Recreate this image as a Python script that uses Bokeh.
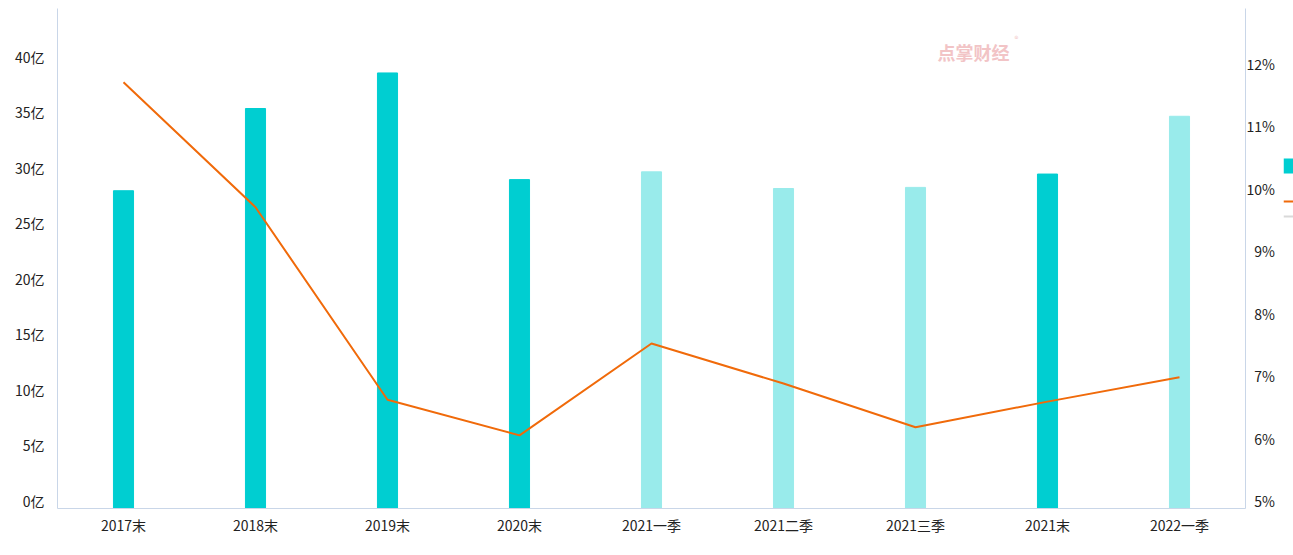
from bokeh.plotting import figure
from bokeh.layouts import row
from bokeh.models import (FactorRange, Range1d, LinearAxis, FixedTicker, ColumnDataSource, Label)
from bokeh.embed import file_html
from bokeh.resources import INLINE

categories = ["2017末", "2018末", "2019末", "2020末", "2021一季", "2021二季", "2021三季", "2021末", "2022一季"]
amount = [28.6, 36.0, 39.2, 29.6, 30.3, 28.8, 28.9, 30.1, 35.3]
ratio = [11.82, 9.82, 6.74, 6.17, 7.64, 7.0, 6.3, 6.71, 7.1]
bar_colors = ["#00CED1", "#00CED1", "#00CED1", "#00CED1", "#99EBEB", "#99EBEB", "#99EBEB", "#00CED1", "#99EBEB"]
left_ticks = [0, 5, 10, 15, 20, 25, 30, 35, 40]
left_labels = ["0亿", "5亿", "10亿", "15亿", "20亿", "25亿", "30亿", "35亿", "40亿"]
right_ticks = [5, 6, 7, 8, 9, 10, 11, 12]
right_labels = ["5%", "6%", "7%", "8%", "9%", "10%", "11%", "12%"]
legend_colors = ["#00CED1", "#F06A0A", "#D9D9D9"]

FONT = "Noto Sans CJK SC, sans-serif"
AXIS_COLOR = "#C9D6E8"
TEXT_COLOR = "#222222"
W, H = 1293, 555
KEY_W = 10                      # width of the strip holding the (cut-off) legend keys
FL, FT, FR, FB = 57, 8, 1245, 508  # frame edges in canvas pixels
FH = FB - FT
L_MAX, R_MIN, R_MAX = 45, 5, 13
LABEL_LIFT = 7.5  # tick labels sit just above their value (pixels)

p = figure(width=W - KEY_W, height=H, x_range=FactorRange(*categories, range_padding=0),
           y_range=Range1d(0, L_MAX), output_backend="svg", toolbar_location=None,
           min_border_left=FL, min_border_right=W - KEY_W - FR, min_border_top=FT,
           min_border_bottom=H - FB)
p.extra_y_ranges = {"pct": Range1d(R_MIN, R_MAX)}
p.outline_line_color = None
p.xgrid.visible = False
p.ygrid.visible = False
p.background_fill_color = "white"
p.border_fill_color = "white"

# left axis: labels lifted so that their middle sits slightly above the value
l_off = LABEL_LIFT * L_MAX / FH
l_pos = [v + l_off for v in left_ticks]
p.yaxis.ticker = FixedTicker(ticks=l_pos)
p.yaxis.major_label_overrides = {t: s for t, s in zip(l_pos, left_labels)}
p.yaxis.axis_line_color = AXIS_COLOR
p.yaxis.major_tick_line_color = None
p.yaxis.minor_tick_line_color = None
p.yaxis.major_tick_out = 0
p.yaxis.major_tick_in = 0
p.yaxis.major_label_standoff = 13
p.yaxis.major_label_text_font = FONT
p.yaxis.major_label_text_font_size = "14px"
p.yaxis.major_label_text_color = TEXT_COLOR

# right axis: right-aligned look via figure-space padding
r_off = LABEL_LIFT * (R_MAX - R_MIN) / FH
r_pos = [v + r_off for v in right_ticks]
width = max(len(s) for s in right_labels)
r_text = ["\u2007" * (width - len(s)) + s for s in right_labels]
ra = LinearAxis(y_range_name="pct", ticker=FixedTicker(ticks=r_pos))
ra.major_label_overrides = {t: s for t, s in zip(r_pos, r_text)}
ra.axis_line_color = AXIS_COLOR
ra.major_tick_line_color = None
ra.minor_tick_line_color = None
ra.major_tick_out = 0
ra.major_tick_in = 0
ra.major_label_standoff = 1
ra.major_label_text_font = FONT
ra.major_label_text_font_size = "14px"
ra.major_label_text_color = TEXT_COLOR
p.add_layout(ra, "right")

p.xaxis.axis_line_color = AXIS_COLOR
p.xaxis.major_tick_line_color = None
p.xaxis.minor_tick_line_color = None
p.xaxis.major_label_text_font = FONT
p.xaxis.major_label_text_font_size = "14px"
p.xaxis.major_label_text_color = TEXT_COLOR
p.xaxis.major_label_standoff = 0

# bars
src = ColumnDataSource(dict(cat=categories, amount=amount, color=bar_colors))
p.vbar(x="cat", top="amount", width=0.152, bottom=0, color="color", source=src)

# line
p.line(x=categories, y=ratio, y_range_name="pct", line_color="#F06A0A", line_width=2)

# watermark
p.add_layout(Label(x=937 - FL, y=FB - 51, x_units="screen", y_units="screen", text="点掌财经",
                   text_baseline="middle",
                   text_font=FONT, text_font_size="18px", text_font_style="bold",
                   text_color="#F2C4C6"))
p.add_layout(Label(x=1014 - FL, y=FB - 38, x_units="screen", y_units="screen", text="®",
                   text_baseline="middle",
                   text_font=FONT, text_font_size="8px", text_color="#F2C4C6"))

# strip at the right edge: the legend keys, whose labels fall outside the page.
# Its frame is aligned with the main frame by the row layout, so map it to page rows.
k = figure(width=KEY_W, height=H, x_range=Range1d(0, KEY_W), y_range=Range1d(FB, FT),
           output_backend="svg", toolbar_location=None, min_border=0,
           x_axis_location=None, y_axis_location=None)
k.grid.visible = False
k.outline_line_color = None
k.background_fill_color = "white"
k.border_fill_color = "white"
key_top = [158, 200, 215]
key_bottom = [173, 202, 217]
k.quad(left=0, right=KEY_W, top=key_top, bottom=key_bottom, fill_color=legend_colors,
       line_color=None)

layout = row(p, k, spacing=0)
open("out.html", "w").write(file_html(layout, INLINE))
